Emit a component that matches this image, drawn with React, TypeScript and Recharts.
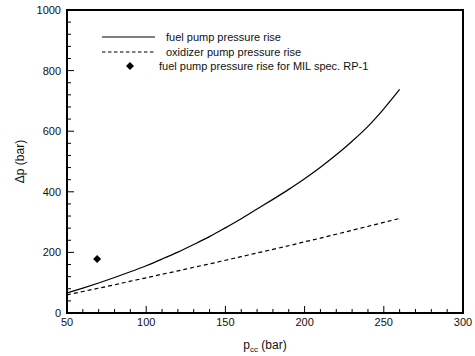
import React from "react";
import { ComposedChart, Line, Scatter, XAxis, YAxis, ReferenceArea, Legend } from "recharts";

// chamber pressure (bar)
const pccValues = [50, 60, 70, 80, 90, 100, 110, 120, 130, 140, 150, 160, 170, 180, 190, 200, 210, 220, 230, 240, 250, 260];
const fuelRise = [66, 82, 99, 117, 136, 156, 178, 201, 226, 252, 281, 311, 343, 375, 408, 443, 481, 522, 567, 616, 674, 738];
const oxidizerRise = [60, 71, 82, 93, 105, 116, 128, 139, 151, 162, 174, 186, 198, 210, 222, 235, 247, 260, 273, 286, 299, 312];
const milPcc = [69];
const milRise = [178];

const xTicks = [50, 60, 70, 80, 90, 100, 110, 120, 130, 140, 150, 160, 170, 180, 190, 200, 210, 220, 230, 240, 250, 260, 270, 280, 290, 300];
const xLabels = [50, 100, 150, 200, 250, 300];
const yTicks = [0, 40, 80, 120, 160, 200, 240, 280, 320, 360, 400, 440, 480, 520, 560, 600, 640, 680, 720, 760, 800, 840, 880, 920, 960, 1000];
const yLabels = [0, 200, 400, 600, 800, 1000];

const legendItems = ["fuel pump pressure rise", "oxidizer pump pressure rise", "fuel pump pressure rise for MIL spec. RP-1"];

const rows = pccValues.map((p, i) => ({ pcc: p, fuel: fuelRise[i], oxid: oxidizerRise[i] }));
const milRows = milPcc.map((p, i) => ({ pcc: p, mil: milRise[i] }));

const FONT = "'Liberation Sans', Arial, sans-serif";

const XTick = (props: any) => {
  const { x, y, payload } = props;
  const major = xLabels.includes(payload.value);
  return (
    <g>
      <line x1={x} x2={x} y1={y} y2={y - (major ? 7 : 4)} stroke="#000" strokeWidth={1} />
      {major && (
        <text x={x} y={y + 13} textAnchor="middle" fontSize={11} fontFamily={FONT} fill="#111">
          {payload.value}
        </text>
      )}
    </g>
  );
};

const YTick = (props: any) => {
  const { x, y, payload } = props;
  const major = yLabels.includes(payload.value);
  return (
    <g>
      <line x1={x} x2={x + (major ? 7 : 4)} y1={y} y2={y} stroke="#000" strokeWidth={1} />
      {major && (
        <text x={x - 6} y={y + 4} textAnchor="end" fontSize={11} fontFamily={FONT} fill="#111">
          {payload.value}
        </text>
      )}
    </g>
  );
};

const XTitle = (props: any) => {
  const { x, y, width } = props.viewBox;
  return (
    <text x={x + width / 2} y={y + 36} textAnchor="middle" fontSize={12} fontFamily={FONT} fill="#111">
      p<tspan fontSize={8} dy={3}>cc</tspan>
      <tspan dy={-3}> (bar)</tspan>
    </text>
  );
};

const YTitle = (props: any) => {
  const { y, height } = props.viewBox;
  const cy = y + height / 2;
  return (
    <text x={24} y={cy} transform={`rotate(-90 24 ${cy})`} textAnchor="middle" fontSize={12} fontFamily={FONT} fill="#111">
      Δp (bar)
    </text>
  );
};

const Diamond = (props: any) => {
  const { cx, cy } = props;
  const r = 4;
  return <polygon points={`${cx},${cy - r} ${cx + r},${cy} ${cx},${cy + r} ${cx - r},${cy}`} fill="#000" />;
};

const LegendBox = () => (
  <svg width={475} height={80} style={{ display: "block" }}>
    <line x1={102} x2={155} y1={37} y2={37} stroke="#000" strokeWidth={1.2} />
    <text x={166} y={41} fontSize={11} fontFamily={FONT} fill="#111">{legendItems[0]}</text>
    <line x1={102} x2={155} y1={52} y2={52} stroke="#000" strokeWidth={1.2} strokeDasharray="3.5 2.5" />
    <text x={166} y={56} fontSize={11} fontFamily={FONT} fill="#111">{legendItems[1]}</text>
    <Diamond cx={130} cy={66} />
    <text x={159} y={70} fontSize={11} fontFamily={FONT} fill="#111">{legendItems[2]}</text>
  </svg>
);

export default function App() {
  return (
    <div style={{ position: "absolute", left: 0, top: 0, background: "#fff" }}>
      <ComposedChart width={475} height={356} data={rows} margin={{ top: 10, right: 12, bottom: 13, left: 10 }}>
        <XAxis
          dataKey="pcc"
          type="number"
          domain={[50, 300]}
          ticks={xTicks}
          interval={0}
          axisLine={false}
          tickLine={false}
          tickSize={0}
          tickMargin={0}
          height={30}
          tick={<XTick />}
          label={<XTitle />}
        />
        <YAxis
          type="number"
          domain={[0, 1000]}
          ticks={yTicks}
          interval={0}
          axisLine={false}
          tickLine={false}
          tickSize={0}
          tickMargin={0}
          width={57}
          tick={<YTick />}
          label={<YTitle />}
        />
        <ReferenceArea x1={50} x2={300} y1={0} y2={1000} fill="none" fillOpacity={0} stroke="#000" strokeWidth={2} />
        <Line dataKey="fuel" type="monotone" stroke="#000" strokeWidth={1.2} dot={false} isAnimationActive={false} />
        <Line dataKey="oxid" type="monotone" stroke="#000" strokeWidth={1.2} strokeDasharray="4 3" dot={false} isAnimationActive={false} />
        <Scatter data={milRows} dataKey="mil" fill="#000" shape={<Diamond />} isAnimationActive={false} />
        <Legend
          layout="vertical"
          align="center"
          verticalAlign="middle"
          content={<LegendBox />}
          wrapperStyle={{ left: 0, top: 0, width: 475, height: 80, pointerEvents: "none" }}
        />
      </ComposedChart>
    </div>
  );
}
